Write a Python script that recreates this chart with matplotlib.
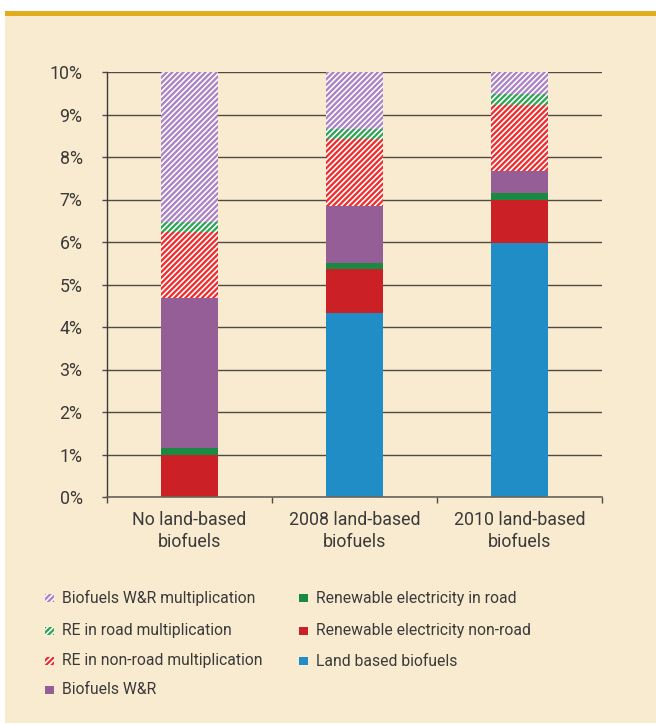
import matplotlib
matplotlib.use("Agg")
import matplotlib.pyplot as plt
from matplotlib.patches import Rectangle
import numpy as np

categories = ["No land-based\nbiofuels", "2008 land-based\nbiofuels", "2010 land-based\nbiofuels"]
land_based = [0.0, 4.32, 5.97]
re_nonroad = [1.0, 1.04, 1.02]
re_road = [0.16, 0.15, 0.16]
biofuels_wr = [3.53, 1.34, 0.52]
re_nonroad_mult = [1.54, 1.57, 1.55]
re_road_mult = [0.23, 0.23, 0.26]
biofuels_wr_mult = [3.54, 1.35, 0.52]
yticks = [0, 1, 2, 3, 4, 5, 6, 7, 8, 9, 10]
ytick_labels = [f"{v}%" for v in yticks]

BG = "#F9EBD0"
TXT = "#3a3a3a"
HATCH = "//////"
plt.rcParams["font.family"] = ["Roboto", "DejaVu Sans"]
plt.rcParams["hatch.linewidth"] = 1.65

W, H = 656, 725
fig = plt.figure(figsize=(W / 100, H / 100), dpi=100)
fig.patch.set_facecolor("white")

def fx(px):
    return px / W

def fy(py):
    return 1 - py / H

# cream panel and gold top rule
fig.add_artist(Rectangle((fx(5), fy(723)), fx(656) - fx(5), fy(11) - fy(723),
                         transform=fig.transFigure, facecolor=BG, edgecolor="none", zorder=0))
fig.add_artist(Rectangle((fx(5), fy(16)), fx(656) - fx(5), fy(11) - fy(16),
                         transform=fig.transFigure, facecolor="#E3AC1C", edgecolor="none", zorder=0))

ax = fig.add_axes([fx(107), fy(497), fx(602) - fx(107), fy(72) - fy(497)])
ax.set_facecolor("none")

x = np.arange(len(categories))
width = 57 / 165

series = [
    ("Land based biofuels", land_based, "#218DC6", None),
    ("Renewable electricity non-road", re_nonroad, "#CC2027", None),
    ("Renewable electricity in road", re_road, "#1A8A42", None),
    ("Biofuels W&R", biofuels_wr, "#955E96", None),
    ("RE in non-road multiplication", re_nonroad_mult, "#EE2E2E", HATCH),
    ("RE in road multiplication", re_road_mult, "#2FA456", HATCH),
    ("Biofuels W&R multiplication", biofuels_wr_mult, "#AB82C4", HATCH),
]

bottom = np.zeros(len(categories))
for name, vals, col, hatch in series:
    vals = np.array(vals)
    if hatch is None:
        ax.bar(x, vals, width, bottom=bottom, color=col, edgecolor="none", zorder=3)
    else:
        ax.bar(x, vals, width, bottom=bottom, facecolor="white", edgecolor=col,
               hatch=hatch, linewidth=0, zorder=3)
    bottom += vals

ax.set_xlim(-0.5, 2.5)
ax.set_ylim(0, 10)
ax.set_yticks(yticks)
ax.set_yticklabels(ytick_labels)
ax.yaxis.grid(True, color="#4f4a44", linewidth=1.0, zorder=1)
ax.set_axisbelow(True)
ax.tick_params(axis="y", length=3.6, width=1.0, color="#4f4a44", pad=14,
               labelsize=12.8, labelcolor=TXT)

ax.set_xticks(x)
ax.set_xticklabels(categories)
ax.set_xticks([-0.5, 0.5, 1.5, 2.5], minor=True)
ax.tick_params(axis="x", which="major", length=0, pad=10, labelsize=12.8, labelcolor=TXT)
ax.tick_params(axis="x", which="minor", length=4, width=1.0, color="#4f4a44")
for lbl in ax.get_xticklabels():
    lbl.set_linespacing(1.3)

for s in ["top", "right"]:
    ax.spines[s].set_visible(False)
ax.spines["left"].set_color("#3a3a3a")
ax.spines["left"].set_linewidth(1.0)
ax.spines["bottom"].set_color("#6b655c")
ax.spines["bottom"].set_linewidth(1.2)
ax.spines["bottom"].set_zorder(4)

# legend (manual layout)
legend_items = [
    ("Biofuels W&R multiplication", "#AB82C4", HATCH, 45, 598),
    ("RE in road multiplication", "#2FA456", HATCH, 45, 631),
    ("RE in non-road multiplication", "#EE2E2E", HATCH, 45, 661),
    ("Biofuels W&R", "#955E96", None, 45, 690),
    ("Renewable electricity in road", "#1A8A42", None, 299, 598),
    ("Renewable electricity non-road", "#CC2027", None, 299, 631),
    ("Land based biofuels", "#218DC6", None, 299, 661),
]
sq = 8.5
for name, col, hatch, px, py in legend_items:
    if hatch is None:
        r = Rectangle((fx(px), fy(py + sq / 2)), fx(sq), fy(0) - fy(sq),
                      transform=fig.transFigure, facecolor=col, edgecolor="none")
    else:
        r = Rectangle((fx(px), fy(py + sq / 2)), fx(sq), fy(0) - fy(sq),
                      transform=fig.transFigure, facecolor="white", edgecolor=col,
                      hatch=hatch, linewidth=0)
    fig.add_artist(r)
    fig.text(fx(px + 17), fy(py), name, ha="left", va="center", fontsize=11.3, color=TXT)

fig.savefig("out.png", dpi=100, facecolor=fig.get_facecolor())
